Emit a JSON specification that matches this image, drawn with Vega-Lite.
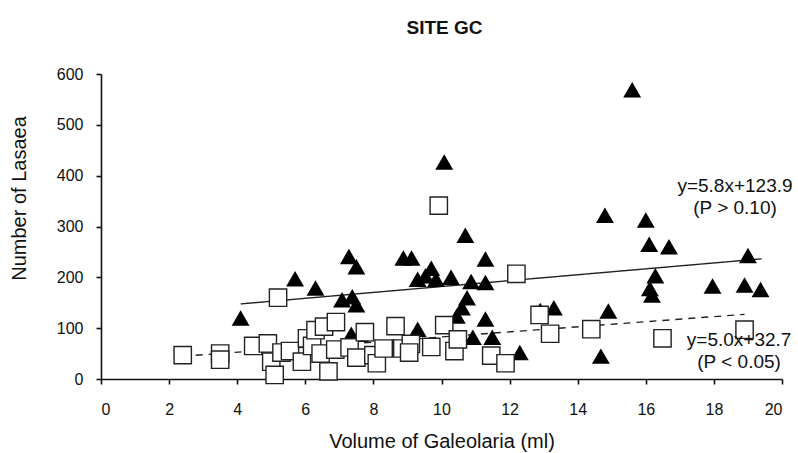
{
  "$schema": "https://vega.github.io/schema/vega-lite/v6.json",
  "width": 681,
  "height": 305,
  "autosize": {"type": "none"},
  "padding": {"left": 101, "top": 74, "right": 16, "bottom": 74},
  "background": "white",
  "title": {
    "text": "SITE GC",
    "font": "Liberation Sans",
    "fontSize": 19,
    "fontWeight": "bold",
    "color": "#111",
    "anchor": "middle",
    "dx": 3,
    "offset": 28
  },
  "config": {
    "view": {"stroke": null},
    "font": "Liberation Sans",
    "axis": {
      "grid": false,
      "domainColor": "#111",
      "domainWidth": 1.6,
      "tickColor": "#111",
      "tickWidth": 1.6,
      "tickSize": 5,
      "labelColor": "#111",
      "labelFont": "Liberation Sans",
      "labelFontSize": 16,
      "titleColor": "#111",
      "titleFont": "Liberation Sans",
      "titleFontSize": 20,
      "titleFontWeight": "normal"
    }
  },
  "datasets": {
    "points": [
      {"series": "A", "volume": 4.1, "lasaea": 120},
      {"series": "A", "volume": 5.7, "lasaea": 197},
      {"series": "A", "volume": 6.3, "lasaea": 179},
      {"series": "A", "volume": 7.28, "lasaea": 241},
      {"series": "A", "volume": 7.5, "lasaea": 221},
      {"series": "A", "volume": 7.08, "lasaea": 156},
      {"series": "A", "volume": 7.38, "lasaea": 162},
      {"series": "A", "volume": 7.5, "lasaea": 146},
      {"series": "A", "volume": 7.35, "lasaea": 88},
      {"series": "A", "volume": 7.6, "lasaea": 88},
      {"series": "A", "volume": 8.57, "lasaea": 62},
      {"series": "A", "volume": 8.88, "lasaea": 238},
      {"series": "A", "volume": 9.12, "lasaea": 238},
      {"series": "A", "volume": 9.3, "lasaea": 196},
      {"series": "A", "volume": 9.53, "lasaea": 203},
      {"series": "A", "volume": 9.7, "lasaea": 218},
      {"series": "A", "volume": 9.84, "lasaea": 196},
      {"series": "A", "volume": 10.08, "lasaea": 427},
      {"series": "A", "volume": 10.28, "lasaea": 200},
      {"series": "A", "volume": 10.7, "lasaea": 283},
      {"series": "A", "volume": 10.87, "lasaea": 192},
      {"series": "A", "volume": 11.29, "lasaea": 190},
      {"series": "A", "volume": 11.29, "lasaea": 236},
      {"series": "A", "volume": 10.75, "lasaea": 160},
      {"series": "A", "volume": 10.6, "lasaea": 140},
      {"series": "A", "volume": 10.45, "lasaea": 124},
      {"series": "A", "volume": 11.29, "lasaea": 118},
      {"series": "A", "volume": 11.49, "lasaea": 82},
      {"series": "A", "volume": 10.92, "lasaea": 82},
      {"series": "A", "volume": 9.3, "lasaea": 98},
      {"series": "A", "volume": 12.3, "lasaea": 52},
      {"series": "A", "volume": 13.3, "lasaea": 140},
      {"series": "A", "volume": 12.9, "lasaea": 135},
      {"series": "A", "volume": 14.8, "lasaea": 322},
      {"series": "A", "volume": 14.9, "lasaea": 134},
      {"series": "A", "volume": 14.68, "lasaea": 45},
      {"series": "A", "volume": 15.6, "lasaea": 569},
      {"series": "A", "volume": 16.0, "lasaea": 313},
      {"series": "A", "volume": 16.1, "lasaea": 265},
      {"series": "A", "volume": 16.68, "lasaea": 260},
      {"series": "A", "volume": 16.28, "lasaea": 203},
      {"series": "A", "volume": 16.12, "lasaea": 178},
      {"series": "A", "volume": 16.18, "lasaea": 165},
      {"series": "A", "volume": 17.96, "lasaea": 183},
      {"series": "A", "volume": 18.9, "lasaea": 185},
      {"series": "A", "volume": 19.0, "lasaea": 243},
      {"series": "A", "volume": 19.37, "lasaea": 176},
      {"series": "B", "volume": 2.4, "lasaea": 47},
      {"series": "B", "volume": 3.5, "lasaea": 50},
      {"series": "B", "volume": 3.5, "lasaea": 38},
      {"series": "B", "volume": 4.47, "lasaea": 65},
      {"series": "B", "volume": 4.9, "lasaea": 70},
      {"series": "B", "volume": 5.0, "lasaea": 34},
      {"series": "B", "volume": 5.1, "lasaea": 8},
      {"series": "B", "volume": 5.2, "lasaea": 160},
      {"series": "B", "volume": 5.3, "lasaea": 52},
      {"series": "B", "volume": 5.55, "lasaea": 55},
      {"series": "B", "volume": 5.9, "lasaea": 34},
      {"series": "B", "volume": 6.05, "lasaea": 80},
      {"series": "B", "volume": 6.2, "lasaea": 65},
      {"series": "B", "volume": 6.3, "lasaea": 96},
      {"series": "B", "volume": 6.55, "lasaea": 103},
      {"series": "B", "volume": 6.9, "lasaea": 112},
      {"series": "B", "volume": 6.45, "lasaea": 50},
      {"series": "B", "volume": 6.68, "lasaea": 15},
      {"series": "B", "volume": 6.88, "lasaea": 58},
      {"series": "B", "volume": 7.3, "lasaea": 62},
      {"series": "B", "volume": 7.5, "lasaea": 42},
      {"series": "B", "volume": 7.75, "lasaea": 92},
      {"series": "B", "volume": 8.0, "lasaea": 47},
      {"series": "B", "volume": 8.1, "lasaea": 31},
      {"series": "B", "volume": 8.3, "lasaea": 60},
      {"series": "B", "volume": 8.65, "lasaea": 104},
      {"series": "B", "volume": 8.85, "lasaea": 60},
      {"series": "B", "volume": 9.1, "lasaea": 69},
      {"series": "B", "volume": 9.05, "lasaea": 52},
      {"series": "B", "volume": 9.7, "lasaea": 63},
      {"series": "B", "volume": 10.08, "lasaea": 106},
      {"series": "B", "volume": 9.92, "lasaea": 341},
      {"series": "B", "volume": 10.38, "lasaea": 55},
      {"series": "B", "volume": 10.48, "lasaea": 78},
      {"series": "B", "volume": 11.46, "lasaea": 46},
      {"series": "B", "volume": 11.88, "lasaea": 31},
      {"series": "B", "volume": 12.2, "lasaea": 207},
      {"series": "B", "volume": 12.88, "lasaea": 126},
      {"series": "B", "volume": 13.19, "lasaea": 89},
      {"series": "B", "volume": 14.4, "lasaea": 98},
      {"series": "B", "volume": 16.49, "lasaea": 80},
      {"series": "B", "volume": 18.9, "lasaea": 97}
    ],
    "fits": [
      {"series": "A", "volume": 4.1, "lasaea": 147.7},
      {"series": "A", "volume": 19.4, "lasaea": 236.4},
      {"series": "B", "volume": 2.4, "lasaea": 44.7},
      {"series": "B", "volume": 18.9, "lasaea": 127.2}
    ],
    "labels": [
      {"volume": 18.62, "lasaea": 380, "label": "y=5.8x+123.9"},
      {"volume": 18.62, "lasaea": 337, "label": "(P > 0.10)"},
      {"volume": 18.74, "lasaea": 77, "label": "y=5.0x+32.7"},
      {"volume": 18.74, "lasaea": 33, "label": "(P < 0.05)"}
    ]
  },
  "encoding": {
    "x": {
      "field": "volume",
      "type": "quantitative",
      "scale": {"domain": [0, 20], "nice": false},
      "axis": {
        "title": "Volume of Galeolaria (ml)",
        "values": [0, 2, 4, 6, 8, 10, 12, 14, 16, 18, 20],
        "labelPadding": 17,
        "titleBaseline": "alphabetic",
        "titleY": 68
      }
    },
    "y": {
      "field": "lasaea",
      "type": "quantitative",
      "scale": {"domain": [0, 600], "nice": false},
      "axis": {
        "title": "Number of Lasaea",
        "values": [0, 100, 200, 300, 400, 500, 600],
        "labelPadding": 13,
        "titleAngle": -90,
        "titleBaseline": "middle",
        "titleX": -82,
        "titleY": 124
      }
    }
  },
  "layer": [
    {
      "data": {"name": "fits"},
      "mark": {"type": "line", "color": "#222", "strokeWidth": 1.4},
      "encoding": {
        "detail": {"field": "series"},
        "strokeDash": {
          "field": "series",
          "type": "nominal",
          "scale": {"domain": ["A", "B"], "range": [[1, 0], [7, 6]]},
          "legend": null
        }
      }
    },
    {
      "data": {"name": "points"},
      "transform": [{"filter": "datum.series === 'A'"}],
      "mark": {"type": "point", "shape": "triangle-up", "filled": true, "color": "#000", "size": 320, "opacity": 1}
    },
    {
      "data": {"name": "points"},
      "transform": [{"filter": "datum.series === 'B'"}],
      "mark": {"type": "point", "shape": "square", "filled": false, "fill": "white", "fillOpacity": 1, "stroke": "#222", "strokeWidth": 1.4, "size": 300, "opacity": 1}
    },
    {
      "data": {"name": "labels"},
      "mark": {"type": "text", "font": "Liberation Sans", "fontSize": 19, "color": "#111", "align": "center", "baseline": "middle"},
      "encoding": {"text": {"field": "label"}}
    }
  ]
}
